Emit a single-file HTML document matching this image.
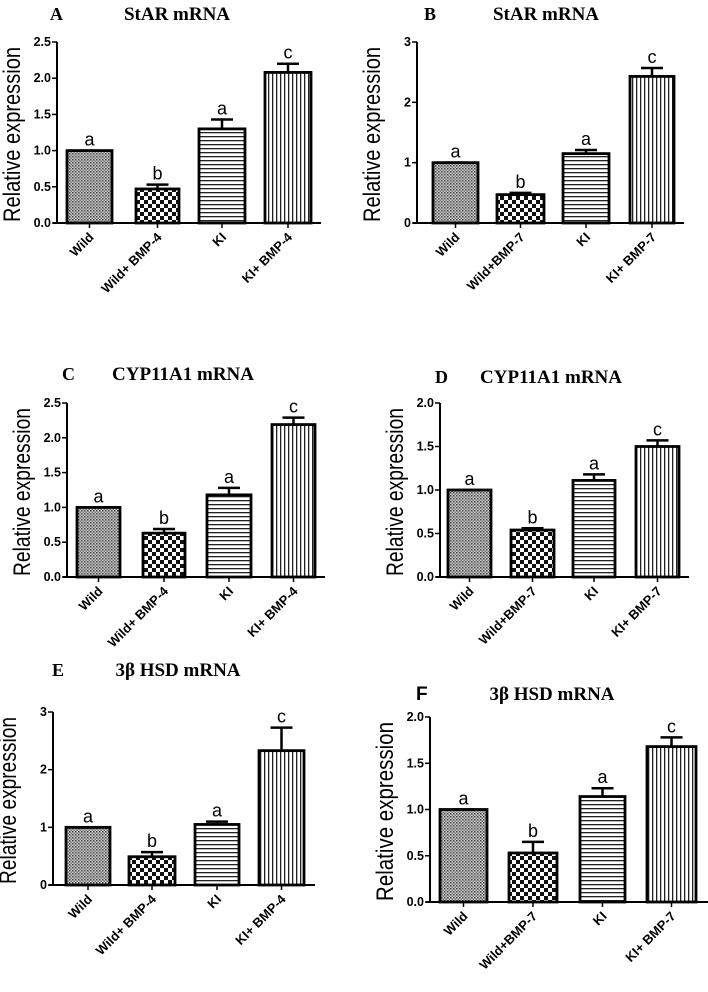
<!DOCTYPE html>
<html><head><meta charset="utf-8"><style>
html,body{margin:0;padding:0;background:#fff}
svg{display:block}
text{font-family:"Liberation Sans",Arial,sans-serif}
.serif{font-family:"Liberation Serif","Times New Roman",serif;font-weight:bold}
</style></head><body>
<svg id="fig" width="708" height="992" viewBox="0 0 708 992" xmlns="http://www.w3.org/2000/svg">
<defs>
<pattern id="pDot" width="3" height="3" patternUnits="userSpaceOnUse"><rect width="3" height="3" fill="#ccc"/><rect width="1.5" height="1.5" fill="#444"/><rect x="1.5" y="1.5" width="1.5" height="1.5" fill="#777"/></pattern>
<pattern id="pChk" width="8" height="8" patternUnits="userSpaceOnUse"><rect width="8" height="8" fill="#fff"/><rect width="4" height="4" fill="#111"/><rect x="4" y="4" width="4" height="4" fill="#111"/></pattern>
<pattern id="pH" width="4" height="4" patternUnits="userSpaceOnUse"><rect width="4" height="4" fill="#fff"/><rect width="4" height="1.3" fill="#222"/></pattern>
<pattern id="pV" width="4" height="4" patternUnits="userSpaceOnUse"><rect width="4" height="4" fill="#fff"/><rect width="1.3" height="4" fill="#222"/></pattern>
</defs>
</svg>
<script>
// Data arrays (one per panel)
const panelIds = ['A','B','C','D','E','F'];
const panelTitles = ['StAR mRNA','StAR mRNA','CYP11A1 mRNA','CYP11A1 mRNA','3β HSD mRNA','3β HSD mRNA'];
const catsBMP4 = ['Wild','Wild+ BMP-4','KI','KI+ BMP-4'];
const catsBMP7 = ['Wild','Wild+BMP-7','KI','KI+ BMP-7'];
const valuesA = [1.0, 0.47, 1.30, 2.08];
const errorsA = [0.0, 0.06, 0.13, 0.12];
const valuesB = [1.0, 0.47, 1.15, 2.43];
const errorsB = [0.0, 0.03, 0.06, 0.14];
const valuesC = [1.0, 0.63, 1.18, 2.19];
const errorsC = [0.0, 0.06, 0.10, 0.10];
const valuesD = [1.0, 0.54, 1.11, 1.50];
const errorsD = [0.0, 0.02, 0.07, 0.07];
const valuesE = [1.0, 0.49, 1.05, 2.33];
const errorsE = [0.0, 0.08, 0.05, 0.40];
const valuesF = [1.0, 0.53, 1.14, 1.68];
const errorsF = [0.0, 0.12, 0.09, 0.10];
const sigLetters = ['a','b','a','c'];
const ticksHalf25 = ['0.0','0.5','1.0','1.5','2.0','2.5'];
const ticksInt3 = ['0','1','2','3'];
const ticksHalf20 = ['0.0','0.5','1.0','1.5','2.0'];

const NS='http://www.w3.org/2000/svg';
const svg=document.getElementById('fig');
function mk(tag,attrs,parent){const e=document.createElementNS(NS,tag);for(const k in attrs)e.setAttribute(k,attrs[k]);(parent||svg).appendChild(e);return e;}

const layouts=[
 {ax:57,y0:223,yTop:42,xEnd:321,bars:[[67,112],[136,179],[199,245],[265,311]],lx:50,tx:177,ty:20,letter:'serif'},
 {ax:417,y0:223,yTop:42,xEnd:684,bars:[[433,478],[497,544],[563,609],[630,674]],lx:424,tx:546,ty:20,letter:'serif'},
 {ax:67,y0:577,yTop:403,xEnd:325,bars:[[77,120],[143,185],[207,251],[272,315]],lx:62,tx:183,ty:380,letter:'serif'},
 {ax:440,y0:577,yTop:403,xEnd:689,bars:[[448,491],[511,554],[573,615],[636,679]],lx:435,tx:551,ty:383,letter:'serif'},
 {ax:53,y0:885,yTop:712,xEnd:315,bars:[[66,110],[129,175],[195,239],[259,304]],lx:52,tx:178,ty:676,letter:'serif'},
 {ax:430,y0:902,yTop:717,xEnd:708,bars:[[440,487],[509,557],[580,625],[647,696]],lx:416,tx:552,ty:700,letter:'sans'}
];
const valueSets=[valuesA,valuesB,valuesC,valuesD,valuesE,valuesF];
const errorSets=[errorsA,errorsB,errorsC,errorsD,errorsE,errorsF];
const catSets=[catsBMP4,catsBMP7,catsBMP4,catsBMP7,catsBMP4,catsBMP7];
const tickSets=[ticksHalf25,ticksInt3,ticksHalf25,ticksHalf20,ticksInt3,ticksHalf20];
const fills=['url(#pDot)','url(#pChk)','url(#pH)','url(#pV)'];

panelIds.forEach((pid,pi)=>{
  const L=layouts[pi], vals=valueSets[pi], errs=errorSets[pi], cats=catSets[pi], ticks=tickSets[pi];
  const g=mk('g',{});
  
  
  const tmax=parseFloat(ticks[ticks.length-1]);
  const y=v=>L.y0-(v/tmax)*(L.y0-L.yTop);
  const pl=mk('text',{x:L.lx,y:L.ty,'font-size':L.letter==='sans'?19:18,'font-weight':'bold'},g);
  if(L.letter==='serif')pl.setAttribute('class','serif');
  pl.textContent=pid;
  
  
  const tt=mk('text',{x:L.tx,y:L.ty,'font-size':19,'text-anchor':'middle','class':'serif'},g);
  tt.textContent=panelTitles[pi];
  
  
  const yl=mk('text',{x:0,y:0,'font-size':24,'text-anchor':'middle',textLength:(L.y0-L.yTop)-6,lengthAdjust:'spacingAndGlyphs',transform:`translate(${L.ax-37},${(L.y0+L.yTop)/2+2}) rotate(-90)`},g);
  yl.textContent='Relative expression';
  
  
  vals.forEach((v,i)=>{
    const [x1,x2]=L.bars[i];
    const r=mk('rect',{x:x1,y:y(v),width:x2-x1,height:L.y0-y(v),fill:fills[i],stroke:'#000','stroke-width':2.8},g);
    
    
    const cx=(x1+x2)/2, top=y(v+errs[i]);
    if(errs[i]>0){
      const e1=mk('line',{x1:cx,x2:cx,y1:y(v),y2:top,stroke:'#000','stroke-width':2.5},g);
      
      
    }
    const e2=mk('line',{x1:cx-11,x2:cx+11,y1:top,y2:top,stroke:'#000','stroke-width':2.5},g);
    
    
    const lt=mk('text',{x:cx,y:top-5,'font-size':18,'text-anchor':'middle'},g);
    lt.textContent=sigLetters[i];
    
    
    const tk=mk('line',{x1:cx,x2:cx,y1:L.y0,y2:L.y0+5,stroke:'#000','stroke-width':1.5},g);
    
    
    const xl=mk('text',{x:0,y:0,'font-size':13,'font-weight':'bold','text-anchor':'end',transform:`translate(${cx+5},${L.y0+15}) rotate(-45)`},g);
    xl.textContent=cats[i];
    
    
  });
  const ya=mk('line',{x1:L.ax,x2:L.ax,y1:L.yTop,y2:L.y0+1,stroke:'#000','stroke-width':2},g);
  
  
  const xa=mk('line',{x1:L.ax-4,x2:L.xEnd,y1:L.y0,y2:L.y0,stroke:'#000','stroke-width':2},g);
  
  
  ticks.forEach(t=>{
    const yy=y(parseFloat(t));
    const tl=mk('line',{x1:L.ax-5,x2:L.ax,y1:yy,y2:yy,stroke:'#000','stroke-width':1.5},g);
    
    
    const tx=mk('text',{x:L.ax-6,y:yy+4,'font-size':12.5,'font-weight':'bold','text-anchor':'end'},g);
    tx.textContent=t;
    
    
  });
});
</script>
</body></html>
